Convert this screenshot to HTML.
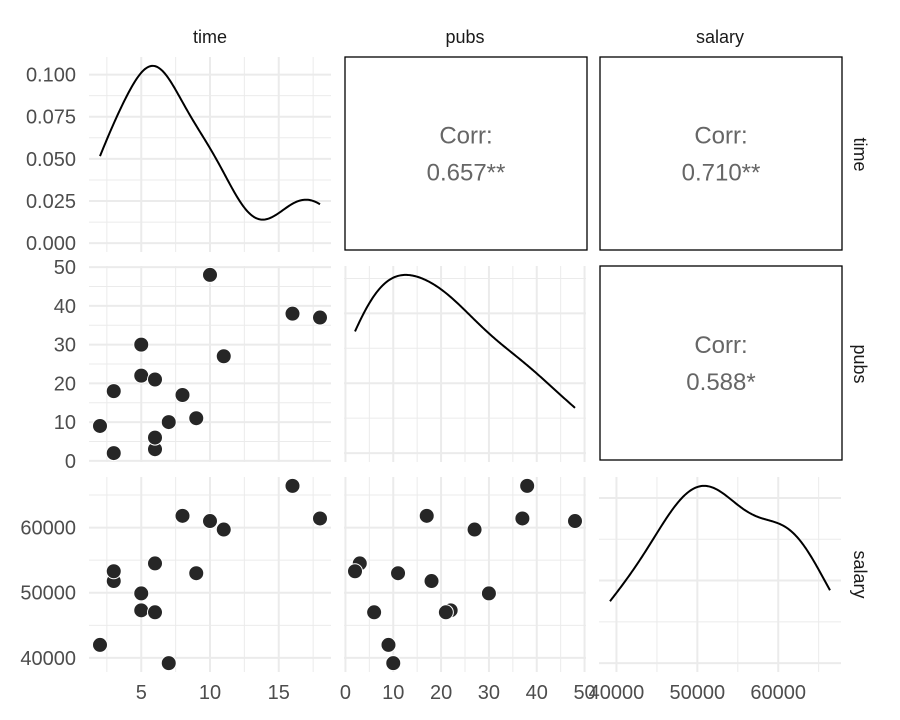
<!DOCTYPE html>
<html><head><meta charset="utf-8">
<style>
body{margin:0;background:#fff;}
svg{display:block;font-family:"Liberation Sans",sans-serif;}
</style></head>
<body>
<svg id="chart" width="900" height="720" viewBox="0 0 900 720" xmlns="http://www.w3.org/2000/svg"></svg>
<script>
const varNames = ["time","pubs","salary"];
const timeVals = [3,6,3,8,9,6,16,10,2,5,5,6,7,11,18];
const pubsVals = [18,3,2,17,11,6,38,48,9,22,30,21,10,27,37];
const salaryVals = [51800,54500,53300,61800,53000,47000,66400,61000,42000,47300,49900,47000,39200,59700,61400];
const corrLabels = ["0.657**","0.710**","0.588*"];
const timeTicks = [5,10,15];
const pubsTicks = [0,10,20,30,40,50];
const salaryTicks = [40000,50000,60000];
const densTicks = [0,0.025,0.05,0.075,0.1];
const densTickLabels = ["0.000","0.025","0.050","0.075","0.100"];

const NS="http://www.w3.org/2000/svg";
const svg=document.getElementById('chart');
function mk(tag,attrs,parent){const e=document.createElementNS(NS,tag);for(const k in attrs)e.setAttribute(k,attrs[k]);(parent||svg).appendChild(e);return e;}

const cols=[[89,331],[344,586],[599,841]];
const rows=[[57,252],[266,462],[477,672]];
const data=[timeVals,pubsVals,salaryVals];
const ticks=[timeTicks,pubsTicks,salaryTicks];
function ext(a){const mn=Math.min(...a),mx=Math.max(...a),p=(mx-mn)*0.05;return [mn-p,mx+p];}
const doms=data.map(ext);
function sx(i,v){const d=doms[i],c=cols[i];return c[0]+(v-d[0])/(d[1]-d[0])*(c[1]-c[0]);}
function sy(j,v){const d=doms[j],r=rows[j];return r[1]-(v-d[0])/(d[1]-d[0])*(r[1]-r[0]);}
function minorOf(t){const s=t[1]-t[0];const out=[];for(let k=-1;k<t.length;k++){out.push(t[0]+(k+0.5)*s);}return out;}

function kde(a){
  const n=a.length,m=a.reduce((x,y)=>x+y)/n;
  const sd=Math.sqrt(a.reduce((s,v)=>s+(v-m)*(v-m),0)/(n-1));
  const s=[...a].sort((x,y)=>x-y);
  function q(p){const h=(n-1)*p,lo=Math.floor(h);return s[lo]+(h-lo)*((s[Math.min(lo+1,n-1)])-s[lo]);}
  const iqr=q(0.75)-q(0.25);
  const bw=0.9*Math.min(sd,iqr/1.34)*Math.pow(n,-0.2);
  const mn=s[0],mx=s[n-1],pts=[];
  for(let k=0;k<=200;k++){const x=mn+(mx-mn)*k/200;let d=0;for(const v of a){const z=(x-v)/bw;d+=Math.exp(-0.5*z*z);}d/=n*bw*Math.sqrt(2*Math.PI);pts.push([x,d]);}
  return pts;
}
function niceTicks(max){const raw=max/4;const p=Math.pow(10,Math.floor(Math.log10(raw)));let st=p;for(const f of [1,2,2.5,5,10]){if(f*p>=raw){st=f*p;break;}}const t=[];for(let v=0;v<=max*1.05;v+=st)t.push(v);return t;}

function gridLine(g,x1,y1,x2,y2,major){
  const l=mk('line',{x1,y1,x2,y2,stroke:'#ebebeb','stroke-width':major?2:1},g);
  
  
}

for(let j=0;j<3;j++){for(let i=0;i<3;i++){
  const g=mk('g',{});
  
  
  const c=cols[i],r=rows[j];
  if(j<i){
    const b=mk('rect',{x:c[0]+1,y:r[0],width:c[1]-c[0],height:r[1]-r[0]-2,fill:'none',stroke:'#000','stroke-width':1.3},g);
    
    const cx=(c[0]+c[1])/2+1,cy=(r[0]+r[1])/2;
    const t1=mk('text',{x:cx,y:cy-11,'text-anchor':'middle','font-size':24,fill:'#666'},g);t1.textContent='Corr:';
    
    const t2=mk('text',{x:cx,y:cy+26,'text-anchor':'middle','font-size':24,fill:'#666'},g);
    t2.textContent=corrLabels[j===0?(i===1?0:1):2];
    
    continue;
  }
  for(const v of minorOf(ticks[i])){const x=sx(i,v);if(x>c[0]&&x<c[1])gridLine(g,x,r[0],x,r[1],false);}
  for(const v of ticks[i]){const x=sx(i,v);if(x>=c[0]-0.5&&x<=c[1]+0.5)gridLine(g,x,r[0],x,r[1],true);}
  if(i===j){
    const pts=kde(data[i]);const mx=Math.max(...pts.map(p=>p[1]));
    const y0=-mx*0.05,y1=mx*1.05;
    const yy=v=>r[1]-(v-y0)/(y1-y0)*(r[1]-r[0]);
    const dt=i===0?densTicks:niceTicks(mx);
    const st=dt[1]-dt[0];
    for(const v of dt){gridLine(g,c[0],yy(v),c[1],yy(v),true);const mv=v+st/2;if(yy(mv)>r[0])gridLine(g,c[0],yy(mv),c[1],yy(mv),false);}
    const d=pts.map((p,k)=>(k?'L':'M')+sx(i,p[0]).toFixed(2)+','+yy(p[1]).toFixed(2)).join('');
    const path=mk('path',{d,fill:'none',stroke:'#000','stroke-width':2},g);
    
  } else {
    for(const v of minorOf(ticks[j])){const y=sy(j,v);if(y>r[0]&&y<r[1])gridLine(g,c[0],y,c[1],y,false);}
    for(const v of ticks[j]){const y=sy(j,v);if(y>=r[0]-0.5&&y<=r[1]+0.5)gridLine(g,c[0],y,c[1],y,true);}
    for(let k=0;k<data[i].length;k++){
      const p=mk('circle',{cx:sx(i,data[i][k]),cy:sy(j,data[j][k]),r:7.5,fill:'#262626',stroke:'#fff','stroke-width':1},g);
      
    }
  }
}}
for(let i=0;i<3;i++){for(let k=0;k<ticks[i].length;k++){const v=ticks[i][k];const x=sx(i,v);
  const t=mk('text',{x,y:699,'text-anchor':'middle','font-size':20,fill:'#4d4d4d'});t.textContent=String(v);
  }}
{const pts=kde(timeVals);const mx=Math.max(...pts.map(p=>p[1]));const y0=-mx*0.05,y1=mx*1.05;
 for(let k=0;k<densTicks.length;k++){const y=rows[0][1]-(densTicks[k]-y0)/(y1-y0)*(rows[0][1]-rows[0][0]);
  const t=mk('text',{x:76,y:y+7,'text-anchor':'end','font-size':20,fill:'#4d4d4d'});t.textContent=densTickLabels[k];
  }}
for(const j of [1,2]){for(const v of ticks[j]){const y=sy(j,v);
  const t=mk('text',{x:76,y:y+7,'text-anchor':'end','font-size':20,fill:'#4d4d4d'});t.textContent=String(v);
  }}
for(let i=0;i<3;i++){const t=mk('text',{x:(cols[i][0]+cols[i][1])/2,y:43,'text-anchor':'middle','font-size':18,fill:'#1a1a1a'});t.textContent=varNames[i];
  }
for(let j=0;j<3;j++){const cy=(rows[j][0]+rows[j][1])/2;const t=mk('text',{x:0,y:0,'text-anchor':'middle','font-size':18,fill:'#1a1a1a',transform:`translate(854,${cy}) rotate(90)`});t.textContent=varNames[j];
  }
</script>
</body></html>
